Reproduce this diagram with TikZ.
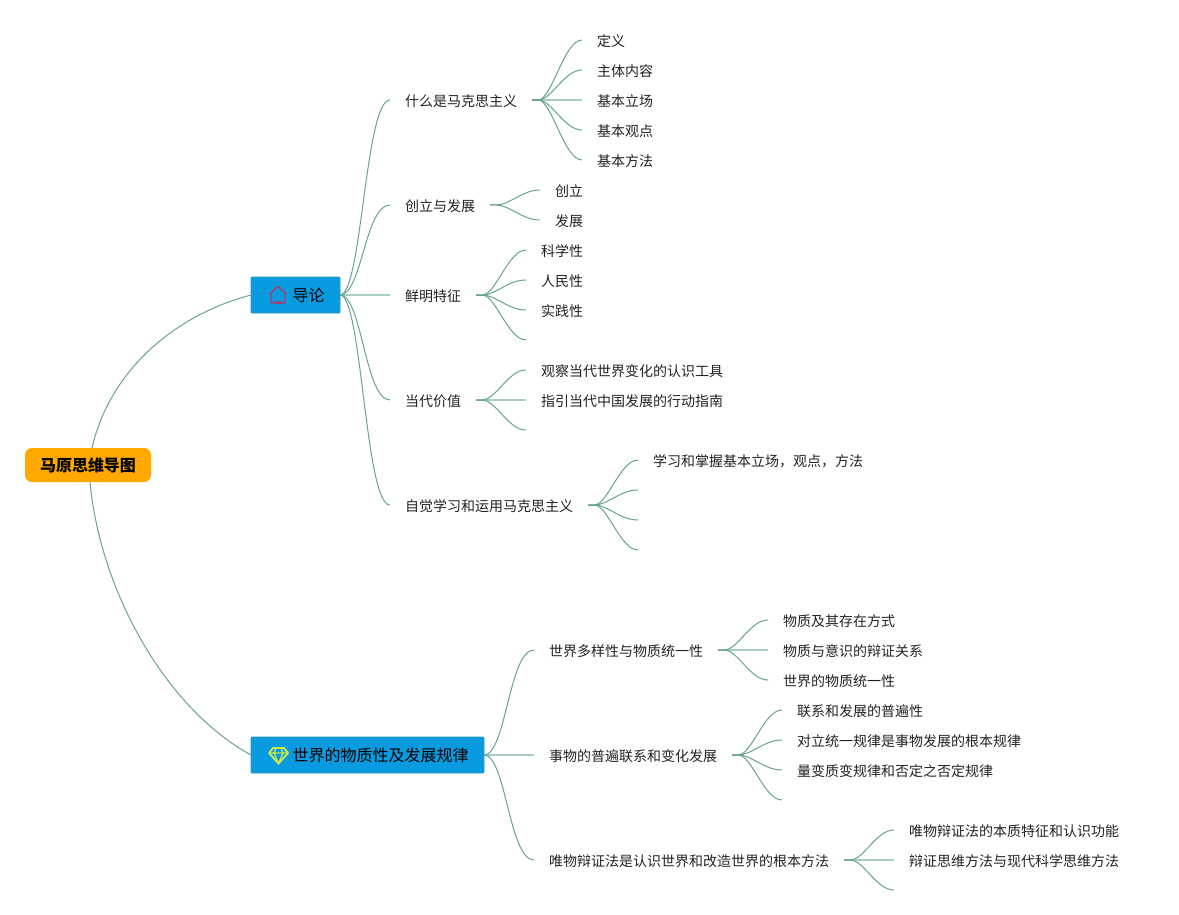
\documentclass[tikz,border=0pt]{standalone}
\usepackage{fontspec}
\setmainfont{Noto Sans CJK SC}
\definecolor{linkgreen}{HTML}{68A294}
\definecolor{flatgreen}{HTML}{A6CDC1}
\definecolor{rootorange}{HTML}{FFA800}
\definecolor{branchblue}{HTML}{089BE0}
\definecolor{branchedge}{HTML}{2C9AB0}
\definecolor{leafgrey}{HTML}{222222}
\definecolor{houseline}{HTML}{B2386A}
\definecolor{housedoor}{HTML}{D8264A}
\definecolor{gemgreen}{HTML}{CBE84C}
\tikzset{
  rootnode/.style={fill=rootorange,rounded corners=7pt,minimum width=126pt,minimum height=34pt,inner sep=0pt,outer sep=0pt,text height=14pt,text depth=1.8pt,font=\fontsize{16}{16}\selectfont\bfseries,text=black},
  branchnode/.style={fill=branchblue,draw=branchedge,line width=.8pt,rounded corners=1pt,minimum height=36pt,inner sep=0pt,outer sep=0pt,text height=14pt,text depth=1.8pt,font=\fontsize{16}{16}\selectfont,text=black},
  topicnode/.style={anchor=west,inner xsep=15pt,inner ysep=0pt,outer sep=0pt,text height=13.3pt,text depth=.7pt,font=\fontsize{14}{14}\selectfont,text=leafgrey},
  biglink/.style={draw=linkgreen,line width=1pt},
  sublink/.style={draw=linkgreen,line width=1pt,out=0,in=180,out min distance=22pt,out max distance=22pt,in min distance=25pt,in max distance=25pt},
  leaflink/.style={sublink,out min distance=14pt,out max distance=14pt,in min distance=18pt,in max distance=18pt},
  flatlink/.style={draw=flatgreen,line width=1.7pt}
}
\begin{document}
\begin{tikzpicture}[x=1pt,y=-1pt]
\useasboundingbox (0,0) rectangle (1179,915);
% root and branches
\node[rootnode] (root) at (88,465) {马原思维导图};
\node[branchnode,minimum width=89pt] (intro) at (295.5,295) {\hspace*{26pt}导论};
\node[branchnode,minimum width=233pt] (matter) at (367.5,755) {\hspace*{26pt}世界的物质性及发展规律};
% house icon
\draw[houseline,line width=1.3pt,line join=round]
  (271,303) -- (271,293.5) -- (270,293.5) -- (278,286.5) -- (286,293.5) -- (285,293.5) -- (285,303) -- cycle;
\fill[housedoor] (275.5,303) -- (275.5,299.5) arc[start angle=180,end angle=0,radius=2.5] -- (280.5,303) -- cycle;
% gem icon
\draw[gemgreen,line width=1.9pt,line join=round]
  (273,748) -- (284,748) -- (288,753) -- (278.5,763.5) -- (269,753) -- cycle;
\draw[gemgreen,line width=1.2pt]
  (269,753) -- (288,753) (274,753) -- (278.5,763.5) -- (283,753) (276,748) -- (274,753) (281,748) -- (283,753);
% first branch
\node[topicnode] (whatis) at (390,100) {什么是马克思主义};
\node[topicnode] (origin) at (390,205) {创立与发展};
\node[topicnode] (traits) at (390,295) {鲜明特征};
\node[topicnode] (worth) at (390,400) {当代价值};
\node[topicnode] (apply) at (390,505) {自觉学习和运用马克思主义};
\node[topicnode] (define) at (582,40) {定义};
\node[topicnode] (content) at (582,70) {主体内容};
\node[topicnode] (stance) at (582,100) {基本立场};
\node[topicnode] (view) at (582,130) {基本观点};
\node[topicnode] (method) at (582,160) {基本方法};
\node[topicnode] (found) at (540,190) {创立};
\node[topicnode] (grow) at (540,220) {发展};
\node[topicnode] (science) at (526,250) {科学性};
\node[topicnode] (people) at (526,280) {人民性};
\node[topicnode] (practice) at (526,310) {实践性};
\coordinate (traitsend) at (526,340);
\node[topicnode] (observe) at (526,370) {观察当代世界变化的认识工具};
\node[topicnode] (guide) at (526,400) {指引当代中国发展的行动指南};
\coordinate (worthend) at (526,430);
\node[topicnode] (master) at (638,460) {学习和掌握基本立场，观点，方法};
\coordinate (applya) at (638,490);
\coordinate (applyb) at (638,520);
\coordinate (applyc) at (638,550);
% second branch
\node[topicnode] (unity) at (534,650) {世界多样性与物质统一性};
\node[topicnode] (change) at (534,755) {事物的普遍联系和变化发展};
\node[topicnode] (dialect) at (534,860) {唯物辩证法是认识世界和改造世界的根本方法};
\node[topicnode] (exist) at (768,620) {物质及其存在方式};
\node[topicnode] (mind) at (768,650) {物质与意识的辩证关系};
\node[topicnode] (oneness) at (768,680) {世界的物质统一性};
\node[topicnode] (link) at (782,710) {联系和发展的普遍性};
\node[topicnode] (oppose) at (782,740) {对立统一规律是事物发展的根本规律};
\node[topicnode] (quality) at (782,770) {量变质变规律和否定之否定规律};
\coordinate (changeend) at (782,800);
\node[topicnode] (nature) at (894,830) {唯物辩证法的本质特征和认识功能};
\node[topicnode] (think) at (894,860) {辩证思维方法与现代科学思维方法};
\coordinate (dialectend) at (894,890);
% connectors
\draw[biglink] (root.north) ++(4,0) coordinate (roota) (roota) .. controls (110,370) and (175,315) .. (intro.west);
\draw[biglink] (root.south) ++(2,0) coordinate (rootb) (rootb) .. controls (100,590) and (165,708) .. (matter.west);
\draw[flatlink] (intro.east) -- (traits.west);
\draw[flatlink] (matter.east) -- (change.west);
\draw[flatlink] (whatis.east) -- (stance.west);
\draw[flatlink] (worth.east) -- (guide.west);
\draw[flatlink] (unity.east) -- (mind.west);
\draw[flatlink] (dialect.east) -- (think.west);
\draw[sublink] (intro.east) to (whatis.west);
\draw[sublink] (intro.east) to (origin.west);
\draw[sublink] (intro.east) to (worth.west);
\draw[sublink] (intro.east) to (apply.west);
\draw[leaflink] (whatis.east) -- ++(6,0) to (define.west);
\draw[leaflink] (whatis.east) -- ++(6,0) to (content.west);
\draw[leaflink] (whatis.east) -- ++(6,0) to (view.west);
\draw[leaflink] (whatis.east) -- ++(6,0) to (method.west);
\draw[leaflink] (origin.east) -- ++(6,0) to (found.west);
\draw[leaflink] (origin.east) -- ++(6,0) to (grow.west);
\draw[leaflink] (traits.east) -- ++(6,0) to (science.west);
\draw[leaflink] (traits.east) -- ++(6,0) to (people.west);
\draw[leaflink] (traits.east) -- ++(6,0) to (practice.west);
\draw[leaflink] (traits.east) -- ++(6,0) to (traitsend);
\draw[leaflink] (worth.east) -- ++(6,0) to (observe.west);
\draw[leaflink] (worth.east) -- ++(6,0) to (worthend);
\draw[leaflink] (apply.east) -- ++(6,0) to (master.west);
\draw[leaflink] (apply.east) -- ++(6,0) to (applya);
\draw[leaflink] (apply.east) -- ++(6,0) to (applyb);
\draw[leaflink] (apply.east) -- ++(6,0) to (applyc);
\draw[sublink] (matter.east) to (unity.west);
\draw[sublink] (matter.east) to (dialect.west);
\draw[leaflink] (unity.east) -- ++(6,0) to (exist.west);
\draw[leaflink] (unity.east) -- ++(6,0) to (oneness.west);
\draw[leaflink] (change.east) -- ++(6,0) to (link.west);
\draw[leaflink] (change.east) -- ++(6,0) to (oppose.west);
\draw[leaflink] (change.east) -- ++(6,0) to (quality.west);
\draw[leaflink] (change.east) -- ++(6,0) to (changeend);
\draw[leaflink] (dialect.east) -- ++(6,0) to (nature.west);
\draw[leaflink] (dialect.east) -- ++(6,0) to (dialectend);
\end{tikzpicture}
\end{document}
